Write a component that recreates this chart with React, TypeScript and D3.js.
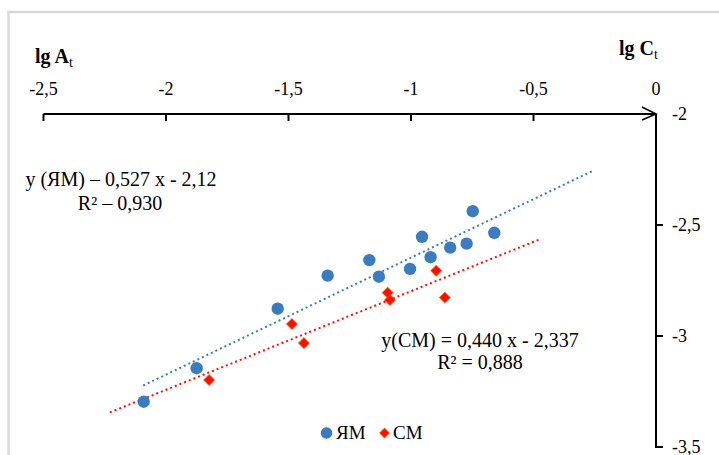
import { useEffect, useRef } from "react"
import * as d3 from "d3"

// axis ticks
const xTicks = [-2.5, -2, -1.5, -1, -0.5, 0]
const yTicks = [-2, -2.5, -3, -3.5]

// ЯМ series (blue circles)
const yamX = [-2.091, -1.875, -1.544, -1.34, -1.17, -1.131, -1.004, -0.955, -0.92, -0.84, -0.773, -0.748, -0.66]
const yamY = [-3.296, -3.145, -2.877, -2.728, -2.658, -2.733, -2.698, -2.553, -2.645, -2.602, -2.584, -2.438, -2.535]

// СМ series (red diamonds)
const smX = [-1.824, -1.486, -1.437, -1.095, -1.086, -0.897, -0.862]
const smY = [-3.198, -2.946, -3.032, -2.805, -2.838, -2.706, -2.827]

// trend lines (endpoints)
const yamTrendX = [-2.093, -0.252]
const yamTrendY = [-3.223, -2.253]
const smTrendX = [-2.229, -0.473]
const smTrendY = [-3.344, -2.564]

const yamEquation = ["y (ЯМ) – 0,527 x - 2,12", "R² – 0,930"]
const smEquation = ["y(СМ) = 0,440 x - 2,337", "R² = 0,888"]
const legendNames = ["ЯМ", "СМ"]

const BLUE = "#3b7bbf"
const RED = "#ff0d00"
const FONT = "'Liberation Serif', 'Times New Roman', serif"

const W = 719
const H = 455

const fmt = (v: number) => String(v).replace(".", ",")

export default function App() {
    const ref = useRef<SVGSVGElement | null>(null)

    useEffect(() => {
        const svg = d3.select(ref.current)
        svg.selectAll("*").remove()

        const x = d3.scaleLinear().domain([-2.5, 0]).range([43.5, 656])
        const y = d3.scaleLinear().domain([-3.5, -2]).range([447, 114])

        // chart border
        svg.append("rect")
            .attr("x", 8.5)
            .attr("y", 12)
            .attr("width", 900)
            .attr("height", 900)
            .attr("fill", "none")
            .attr("stroke", "#d9d9d9")
            .attr("stroke-width", 2.5)

        const axisY = y(-2)
        const axisX = x(0)

        // x axis line (top) with arrow
        svg.append("line")
            .attr("x1", x(-2.5)).attr("x2", axisX)
            .attr("y1", axisY).attr("y2", axisY)
            .attr("stroke", "#000").attr("stroke-width", 2)
        svg.append("path")
            .attr("d", `M${axisX - 14},${axisY - 7}L${axisX},${axisY}L${axisX - 14},${axisY + 6}`)
            .attr("fill", "none").attr("stroke", "#000").attr("stroke-width", 1.6)

        svg.append("g")
            .selectAll("line")
            .data(xTicks.filter(d => d !== 0))
            .join("line")
            .attr("x1", d => x(d)).attr("x2", d => x(d))
            .attr("y1", axisY).attr("y2", axisY + 7)
            .attr("stroke", "#000").attr("stroke-width", 2)

        svg.append("g")
            .selectAll("text")
            .data(xTicks)
            .join("text")
            .attr("x", d => x(d))
            .attr("y", 95)
            .attr("text-anchor", "middle")
            .attr("font-family", FONT)
            .attr("font-size", 18)
            .text(d => fmt(d))

        // y axis (right side)
        svg.append("line")
            .attr("x1", axisX).attr("x2", axisX)
            .attr("y1", y(-2)).attr("y2", y(-3.5) + 1)
            .attr("stroke", "#000").attr("stroke-width", 2)

        svg.append("g")
            .selectAll("line")
            .data(yTicks.filter(d => d !== -2))
            .join("line")
            .attr("x1", axisX).attr("x2", axisX + 7)
            .attr("y1", d => y(d)).attr("y2", d => y(d))
            .attr("stroke", "#000").attr("stroke-width", 2)

        svg.append("g")
            .selectAll("text")
            .data(yTicks)
            .join("text")
            .attr("x", axisX + 16)
            .attr("y", d => y(d) + 2)
            .attr("dominant-baseline", "middle")
            .attr("font-family", FONT)
            .attr("font-size", 18)
            .text(d => fmt(d))

        // axis titles
        const titleA = svg.append("text")
            .attr("x", 35).attr("y", 63)
            .attr("font-family", FONT).attr("font-size", 20)
        titleA.append("tspan").attr("font-weight", 700).text("lg A")
        titleA.append("tspan").attr("font-size", 14).attr("dy", 4).text("t")

        const titleC = svg.append("text")
            .attr("x", 619).attr("y", 55)
            .attr("font-family", FONT).attr("font-size", 20)
        titleC.append("tspan").attr("font-weight", 700).text("lg C")
        titleC.append("tspan").attr("font-size", 14).attr("dy", 4).text("t")

        // trend lines
        const line = d3.line<[number, number]>()
            .x(d => x(d[0]))
            .y(d => y(d[1]))

        svg.append("path")
            .attr("d", line(d3.zip(yamTrendX, yamTrendY) as [number, number][]))
            .attr("fill", "none")
            .attr("stroke", BLUE)
            .attr("stroke-width", 2)
            .attr("stroke-dasharray", "2,3")

        svg.append("path")
            .attr("d", line(d3.zip(smTrendX, smTrendY) as [number, number][]))
            .attr("fill", "none")
            .attr("stroke", RED)
            .attr("stroke-width", 2)
            .attr("stroke-dasharray", "2,3")

        // points
        svg.append("g")
            .selectAll("circle")
            .data(d3.zip(yamX, yamY))
            .join("circle")
            .attr("cx", d => x(d[0]))
            .attr("cy", d => y(d[1]))
            .attr("r", 6.2)
            .attr("fill", BLUE)

        const diamond = d3.symbol().type(d3.symbolDiamond2)

        svg.append("g")
            .selectAll("path")
            .data(d3.zip(smX, smY))
            .join("path")
            .attr("transform", d => `translate(${x(d[0])},${y(d[1])})`)
            .attr("d", diamond.size(78)())
            .attr("fill", RED)
            .attr("stroke", "#ff6a00")
            .attr("stroke-width", 0.8)

        // equations
        const eqA = svg.append("g")
            .attr("font-family", FONT)
            .attr("font-size", 20)
            .attr("text-anchor", "middle")
        eqA.append("text").attr("x", 121).attr("y", 186).text(yamEquation[0])
        eqA.append("text").attr("x", 120).attr("y", 210).text(yamEquation[1])

        const eqB = svg.append("g")
            .attr("font-family", FONT)
            .attr("font-size", 20)
            .attr("text-anchor", "middle")
        eqB.append("text").attr("x", 480).attr("y", 347).text(smEquation[0])
        eqB.append("text").attr("x", 480).attr("y", 369).text(smEquation[1])

        // legend
        const legend = svg.append("g")
            .attr("font-family", FONT)
            .attr("font-size", 19)
        legend.append("circle")
            .attr("cx", 326.5).attr("cy", 433).attr("r", 5.8)
            .attr("fill", BLUE)
        legend.append("text").attr("x", 336).attr("y", 439).text(legendNames[0])
        legend.append("path")
            .attr("transform", "translate(384.5,433)")
            .attr("d", diamond.size(64)())
            .attr("fill", RED)
            .attr("stroke", "#ff6a00")
            .attr("stroke-width", 0.8)
        legend.append("text").attr("x", 393).attr("y", 439).text(legendNames[1])
    }, [])

    return (
        <div style={{ position: "absolute", left: 0, top: 0, width: W, height: H, background: "#fff" }}>
            <svg ref={ref} width={W} height={H} style={{ display: "block" }} />
        </div>
    )
}
